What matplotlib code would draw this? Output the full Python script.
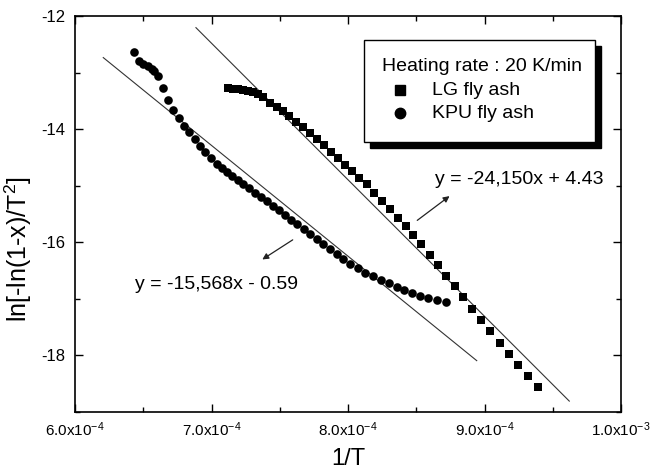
import numpy as np
import matplotlib
matplotlib.use('Agg')
import matplotlib.pyplot as plt
from matplotlib.ticker import MultipleLocator
from matplotlib.patches import Rectangle

plt.rcParams['font.family'] = ['Liberation Sans', 'DejaVu Sans']
plt.rcParams['mathtext.fontset'] = 'custom'
plt.rcParams['mathtext.rm'] = 'Liberation Sans'
plt.rcParams['mathtext.it'] = 'Liberation Sans:italic'
plt.rcParams['axes.unicode_minus'] = False

# values (x in units of 1e-4)
lg_x = [7.123, 7.158, 7.194, 7.231, 7.267, 7.304, 7.341, 7.380, 7.429, 7.478,
        7.522, 7.570, 7.619, 7.668, 7.722, 7.771, 7.824, 7.876, 7.925, 7.978,
        8.032, 8.083, 8.137, 8.193, 8.249, 8.308, 8.364, 8.423, 8.478, 8.537,
        8.597, 8.659, 8.720, 8.782, 8.845, 8.908, 8.974, 9.043, 9.111, 9.180,
        9.248, 9.321, 9.394]
lg_y = [-13.274, -13.283, -13.295, -13.309, -13.325, -13.345, -13.371, -13.436,
        -13.538, -13.609, -13.686, -13.774, -13.873, -13.968, -14.067, -14.173,
        -14.285, -14.402, -14.507, -14.626, -14.744, -14.860, -14.978, -15.124,
        -15.265, -15.419, -15.565, -15.713, -15.871, -16.035, -16.220, -16.393,
        -16.587, -16.775, -16.974, -17.175, -17.369, -17.568, -17.780, -17.979,
        -18.173, -18.361, -18.550]

kpu_x = [6.432, 6.469, 6.500, 6.533, 6.562, 6.581, 6.610, 6.647, 6.684, 6.720,
         6.760, 6.799, 6.837, 6.877, 6.916, 6.955, 6.994, 7.038, 7.075, 7.114,
         7.153, 7.193, 7.234, 7.275, 7.317, 7.360, 7.403, 7.447, 7.491, 7.536,
         7.582, 7.628, 7.676, 7.723, 7.771, 7.820, 7.870, 7.920, 7.966, 8.015,
         8.071, 8.127, 8.185, 8.242, 8.300, 8.357, 8.413, 8.471, 8.528, 8.588,
         8.650, 8.716]
kpu_y = [-12.640, -12.788, -12.846, -12.881, -12.934, -12.969, -13.057, -13.281,
         -13.480, -13.656, -13.810, -13.938, -14.056, -14.173, -14.291, -14.396,
         -14.502, -14.608, -14.684, -14.754, -14.826, -14.899, -14.969, -15.045,
         -15.121, -15.198, -15.276, -15.355, -15.436, -15.517, -15.602, -15.685,
         -15.771, -15.856, -15.944, -16.032, -16.122, -16.211, -16.300, -16.388,
         -16.463, -16.534, -16.604, -16.664, -16.728, -16.788, -16.846, -16.899,
         -16.946, -16.987, -17.022, -17.062]

# fitted lines (end points)
lg_fit_x = [6.886, 9.621]
lg_fit_y = [-12.206, -18.807]
kpu_fit_x = [6.207, 8.943]
kpu_fit_y = [-12.735, -18.092]

xticks = [6.0, 7.0, 8.0, 9.0, 10.0]
xtick_labels = ['6.0x10$^{-4}$', '7.0x10$^{-4}$', '8.0x10$^{-4}$',
                '9.0x10$^{-4}$', '1.0x10$^{-3}$']
yticks = [-18, -16, -14, -12]

sc = 1e-4
fig = plt.figure(figsize=(6.5, 4.75), dpi=100)
ax = fig.add_axes([0.1154, 0.1326, 0.84, 0.8337])

ax.plot(np.array(lg_fit_x) * sc, lg_fit_y, color='#333333', lw=0.8)
ax.plot(np.array(kpu_fit_x) * sc, kpu_fit_y, color='#333333', lw=0.8)
ax.plot(np.array(lg_x) * sc, lg_y, 's', color='black', ms=5.4, mew=0)
ax.plot(np.array(kpu_x) * sc, kpu_y, 'o', color='black', ms=6.2, mew=0)

ax.set_xlim(6.0e-4, 1.0e-3)
ax.set_ylim(-19, -12)
ax.set_xticks(np.array(xticks) * sc)
ax.set_xticklabels(xtick_labels)
ax.set_yticks(yticks)
ax.xaxis.set_minor_locator(MultipleLocator(0.5e-4))
ax.yaxis.set_minor_locator(MultipleLocator(1))
ax.tick_params(which='both', direction='in', top=True, right=True, width=1.0)
ax.tick_params(which='major', length=6)
ax.tick_params(which='minor', length=3.5)
ax.tick_params(axis='x', labelsize=11, pad=6)
ax.tick_params(axis='y', labelsize=12, pad=7)
for s in ax.spines.values():
    s.set_linewidth(1.2)

ax.set_xlabel('1/T', fontsize=17)
ax.xaxis.set_label_coords(0.5, -0.09)
ax.set_ylabel('ln[-ln(1-x)/T$^2$]', fontsize=18)
ax.yaxis.set_label_coords(-0.076, 0.41)

# fit equations with arrows
ax.annotate('', xy=(7.355 * sc, -16.33), xytext=(7.612 * sc, -15.93),
            arrowprops=dict(arrowstyle='-|>', color='#222222', lw=0.9,
                            mutation_scale=9))
ax.text(6.44 * sc, -16.74, 'y = -15,568x - 0.59', fontsize=14, va='center')
ax.annotate('', xy=(8.760 * sc, -15.154), xytext=(8.491 * sc, -15.642),
            arrowprops=dict(arrowstyle='-|>', color='#222222', lw=0.9,
                            mutation_scale=9))
ax.text(8.637 * sc, -14.89, 'y = -24,150x + 4.43', fontsize=14, va='center')

# legend box with solid shadow
def px2ax(px, py):
    return (px - 75) / 546.0, (412 - py) / 396.0

x0, y0 = px2ax(364, 141.7)
x1, y1 = px2ax(595, 40)
dx, dy = 6 / 546.0, 6 / 396.0
ax.add_patch(Rectangle((x0 + dx, y0 - dy), x1 - x0, y1 - y0, transform=ax.transAxes,
                       facecolor='black', edgecolor='black', zorder=5))
ax.add_patch(Rectangle((x0, y0), x1 - x0, y1 - y0, transform=ax.transAxes,
                       facecolor='white', edgecolor='black', lw=1.0, zorder=6))
tx, ty = px2ax(381.7, 66.7)
ax.text(tx, ty, 'Heating rate : 20 K/min', transform=ax.transAxes, fontsize=14,
        va='center', zorder=7)
mx, my1 = px2ax(400, 90)
_, my2 = px2ax(400, 113.3)
lx, _ = px2ax(431.7, 90)
ax.plot([mx], [my1], 's', color='black', ms=7, transform=ax.transAxes, zorder=7)
ax.plot([mx], [my2], 'o', color='black', ms=7.5, transform=ax.transAxes, zorder=7)
ax.text(lx, my1, 'LG fly ash', transform=ax.transAxes, fontsize=14, va='center', zorder=7)
ax.text(lx, my2, 'KPU fly ash', transform=ax.transAxes, fontsize=14, va='center', zorder=7)

fig.savefig('out.png', dpi=100)
